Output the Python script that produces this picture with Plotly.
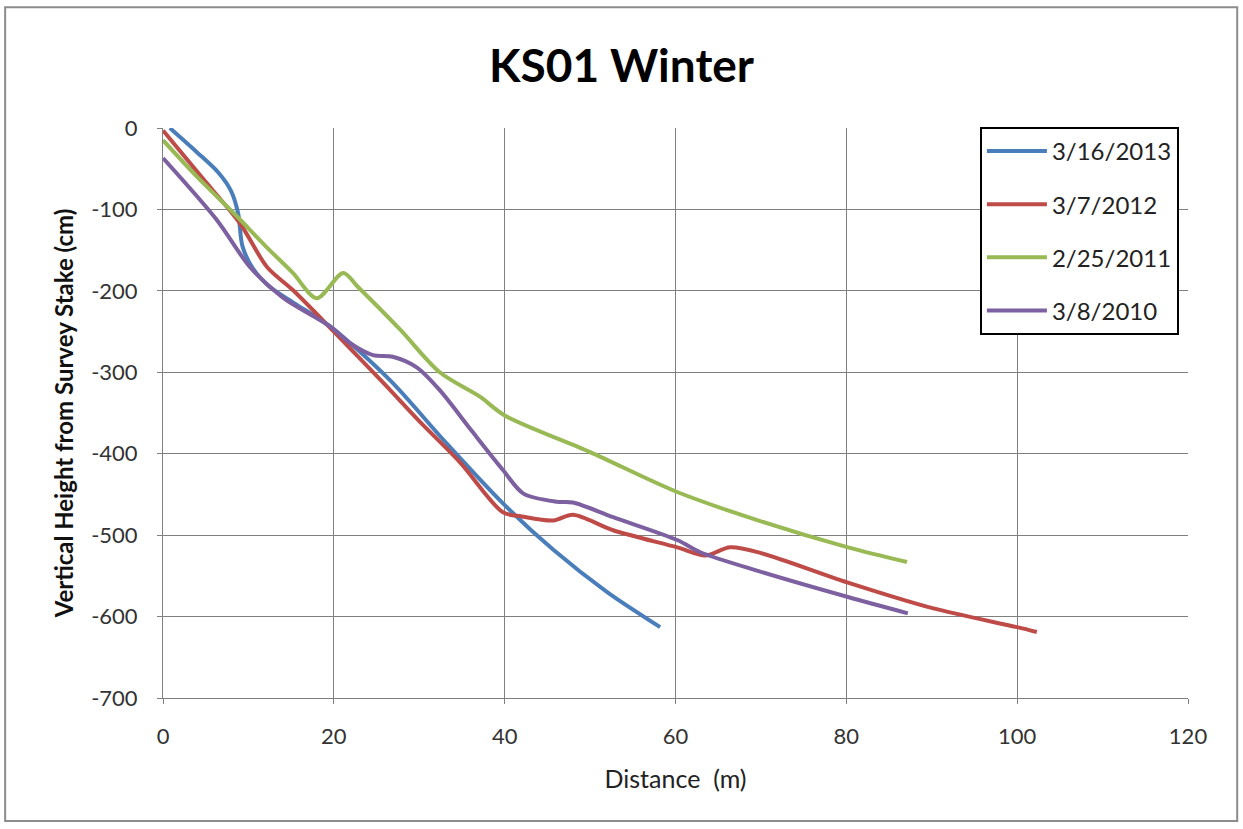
import plotly.graph_objects as go

# ---- data ----
series_names = ["3/16/2013", "3/7/2012", "2/25/2011", "3/8/2010"]

x_2013 = [0.8, 4, 6.5, 8, 8.8, 9.3, 10.5, 12.5, 15.5, 19.6, 26.6, 33, 39.8, 45.7, 52, 58.2]
y_2013 = [0, -30, -55, -78, -105, -145, -172, -195, -216, -244, -310, -385, -461, -518, -570, -613]

x_2012 = [0, 4.5, 9, 12.2, 15.2, 20, 25.8, 30, 34.8, 39.8, 42, 45.7, 48, 52.7, 60.2, 63.5, 66.4, 70, 80.1, 90.2, 100, 102.3]
y_2012 = [-3, -60, -117, -171, -199, -250, -313, -360, -411, -472, -477, -482, -475, -494, -515, -525, -515, -522, -558, -590, -613, -619]

x_2011 = [0, 4, 8.7, 12, 15.2, 18, 21.1, 22.8, 27.8, 32.4, 37.1, 40, 50, 60.2, 70, 80.2, 87.1]
y_2011 = [-15, -60, -109, -145, -178, -209, -178, -195, -248, -300, -330, -353, -398, -447, -483, -515, -533]

x_2010 = [0, 6.3, 10.2, 14, 19.6, 22, 24.6, 26.9, 29.7, 32.4, 36, 39.8, 42.2, 46.1, 48, 52.7, 60.2, 62.9, 70, 80.2, 87.2]
y_2010 = [-37, -113, -171, -208, -244, -265, -279, -281, -294, -322, -370, -420, -449, -459, -460, -478, -506, -521, -545, -576, -596]

x_ticks = [0, 20, 40, 60, 80, 100, 120]
y_ticks = [0, -100, -200, -300, -400, -500, -600, -700]

colors = ["#4A7EBB", "#BE4B48", "#98B954", "#7D60A0"]
xs = [x_2013, x_2012, x_2011, x_2010]
ys = [y_2013, y_2012, y_2011, y_2010]

FONT = "Lato, Open Sans, sans-serif"

fig = go.Figure()
for name, xv, yv, c in zip(series_names, xs, ys, colors):
    fig.add_trace(go.Scatter(
        x=xv, y=yv, name=name, mode="lines",
        line=dict(color=c, width=4, shape="spline", smoothing=0.85),
        legendgroup=name,
    ))

grid = "#808080"
fig.update_layout(
    width=1243, height=829,
    paper_bgcolor="white", plot_bgcolor="white",
    margin=dict(l=163, r=55, t=128, b=131),
    title=dict(text="<b>KS01 Winter</b>", x=0.5, xanchor="center", y=0.921, yanchor="middle",
               font=dict(family=FONT, size=46, color="black")),
    font=dict(family=FONT, color="#333333"),
    showlegend=True,
    legend=dict(
        x=0.797, y=1.002, xanchor="left", yanchor="top",
        bordercolor="black", borderwidth=2, bgcolor="white",
        font=dict(family=FONT, size=24, color="#222222"),
        itemwidth=60, tracegroupgap=19,
    ),
)
fig.update_xaxes(
    range=[0, 120], tickvals=x_ticks, ticktext=[str(v) for v in x_ticks],
    showgrid=True, gridcolor=grid, gridwidth=1,
    showline=True, linecolor=grid, linewidth=1,
    ticks="outside", ticklen=5, tickcolor=grid,
    tickfont=dict(family=FONT, size=22, color="#333333"),
    ticklabelstandoff=14,
    zeroline=False,
    title=dict(text="Distance  (m)", font=dict(family=FONT, size=25, color="#222222"), standoff=22),
)
fig.update_yaxes(
    range=[-700, 0], tickvals=y_ticks, ticktext=[str(v) for v in y_ticks],
    showgrid=True, gridcolor=grid, gridwidth=1,
    showline=True, linecolor=grid, linewidth=1,
    ticks="outside", ticklen=5, tickcolor=grid,
    tickfont=dict(family=FONT, size=22, color="#333333"),
    ticklabelstandoff=15,
    zeroline=False,
    title=dict(text="<b>Vertical Height from Survey Stake (cm)</b>",
               font=dict(family=FONT, size=24, color="#111111"), standoff=10),
)

# outer chart frame
fig.add_shape(type="rect", xref="paper", yref="paper",
              x0=-0.154, x1=1.048, y0=-0.216, y1=1.212,
              line=dict(color="#8c8c8c", width=2), fillcolor="rgba(0,0,0,0)", layer="below")

fig.write_html("out.html", config={"displayModeBar": False},
               post_script="document.body.style.margin='0';")
